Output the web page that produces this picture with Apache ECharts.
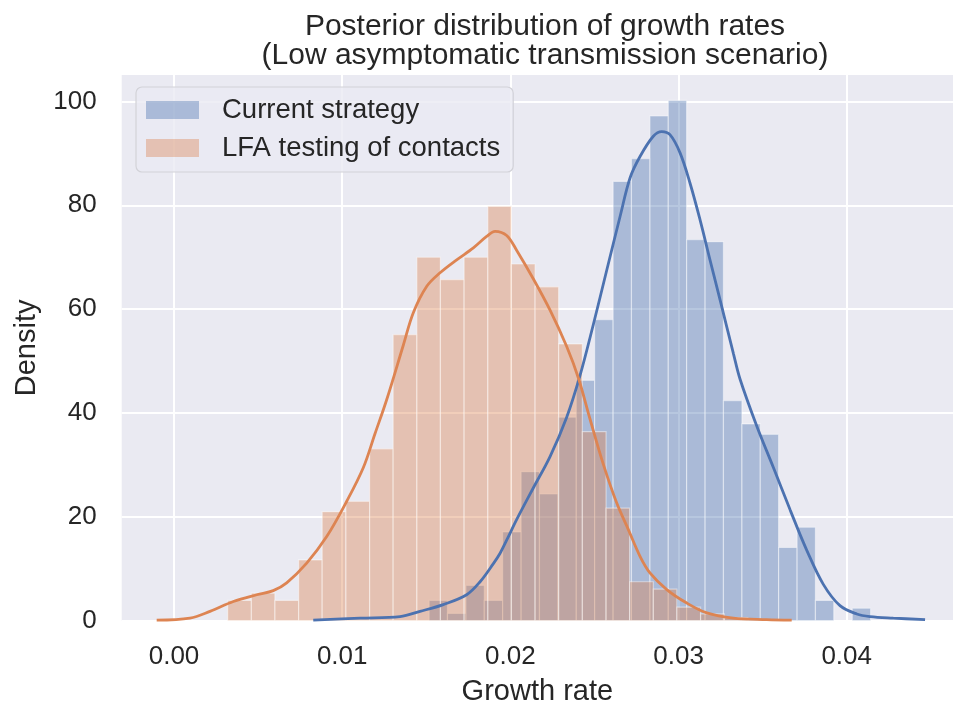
<!DOCTYPE html>
<html>
<head>
<meta charset="utf-8">
<script src="https://cdn.jsdelivr.net/npm/echarts@6/dist/echarts.min.js"></script>
<style>html,body{margin:0;padding:0;background:#fff}#c{width:953px;height:706px}</style>
</head>
<body>
<div id="c"></div>
<script>
// ---- data ----
const titleLines = ['Posterior distribution of growth rates', '(Low asymptomatic transmission scenario)'];
const seriesNames = ['Current strategy', 'LFA testing of contacts'];
const xTickLabels = ['0.00', '0.01', '0.02', '0.03', '0.04'];
const yTickLabels = ['0', '20', '40', '60', '80', '100'];

// histogram bin edges and densities: Current strategy
const blueEdges = [0.01517, 0.01626, 0.01736, 0.01845, 0.01954, 0.02064, 0.02173, 0.02283, 0.02392, 0.02501,
  0.02611, 0.02720, 0.02830, 0.02939, 0.03048, 0.03158, 0.03267, 0.03377, 0.03486, 0.03595,
  0.03705, 0.03814, 0.03923, 0.04033, 0.04142];
const blueHeights = [3.9, 1.4, 6.8, 3.9, 17.1, 28.7, 24.4, 39.2, 46.3, 58.0,
  84.6, 89.0, 97.2, 100.2, 73.4, 73.0, 42.4, 37.9, 35.9, 14.1,
  18.0, 3.9, 0, 2.4];

// histogram bin edges and densities: LFA testing of contacts
const orangeEdges = [0.00319, 0.00460, 0.00600, 0.00741, 0.00881, 0.01022, 0.01163, 0.01303, 0.01444, 0.01584,
  0.01725, 0.01866, 0.02006, 0.02147, 0.02287, 0.02428, 0.02569, 0.02709, 0.02850, 0.02990,
  0.03131, 0.03272, 0.03412];
const orangeHeights = [3.9, 5.3, 3.9, 11.7, 21.0, 23.0, 33.1, 55.1, 70.0, 65.7,
  70.0, 79.8, 68.7, 64.3, 53.3, 36.4, 21.7, 7.5, 6.1, 2.6,
  1.3, 0.6];

// KDE curves (x, density)
const blueKdeX = [0.00828, 0.01106, 0.01344, 0.01463, 0.01601, 0.01740, 0.01820, 0.01899, 0.01939, 0.01978,
  0.02038, 0.02137, 0.02236, 0.02335, 0.02414, 0.02493, 0.02573, 0.02652, 0.02712, 0.02771,
  0.02850, 0.02900, 0.02949, 0.03009, 0.03068, 0.03128, 0.03187, 0.03247, 0.03326, 0.03366,
  0.03465, 0.03564, 0.03664, 0.03762, 0.03861, 0.03960, 0.04060, 0.04139, 0.04277, 0.04466];
const blueKdeY = [0.1, 0.5, 0.8, 1.8, 3.1, 5.0, 7.5, 11.0, 13.0, 15.5,
  19.5, 25.6, 31.6, 39.2, 47.2, 57.0, 67.5, 77.8, 85.3, 89.4,
  93.3, 94.2, 93.6, 90.1, 84.3, 77.2, 69.5, 61.8, 51.5, 46.5,
  37.5, 29.5, 21.3, 13.6, 7.0, 2.9, 1.3, 0.8, 0.5, 0.2];
const orangeKdeX = [-0.00103, 0.00095, 0.00214, 0.00353, 0.00492, 0.00590, 0.00670, 0.00789, 0.00908, 0.01027,
  0.01126, 0.01195, 0.01265, 0.01363, 0.01423, 0.01503, 0.01582, 0.01681, 0.01780, 0.01859,
  0.01909, 0.01978, 0.02038, 0.02137, 0.02236, 0.02335, 0.02404, 0.02474, 0.02553, 0.02632,
  0.02701, 0.02771, 0.02830, 0.02930, 0.03049, 0.03168, 0.03326, 0.03524, 0.03673];
const orangeKdeY = [0.1, 0.5, 1.8, 3.7, 5.0, 5.8, 7.3, 11.1, 16.2, 23.0,
  29.5, 36.0, 42.6, 53.0, 59.3, 64.4, 67.0, 69.5, 71.8, 74.0,
  75.0, 74.2, 71.3, 65.8, 59.8, 52.8, 46.8, 38.8, 30.1, 22.7,
  17.6, 12.4, 9.2, 6.0, 3.4, 1.5, 0.5, 0.2, 0.1];

// ---- build chart ----
const FONT = '"Liberation Sans", Arial, sans-serif';
const TXT = '#262626';
const blueLine = '#4C72B0', orangeLine = '#DD8452';
const blueFill = 'rgba(76,114,176,0.4)', orangeFill = 'rgba(221,132,82,0.4)';

function bins(edges, heights) {
  return heights.map((h, i) => [edges[i], edges[i + 1], h]);
}
function pts(xs, ys) { return xs.map((x, i) => [x, ys[i]]); }
function histRender(fill) {
  return function (params, api) {
    const x0 = api.value(0), x1 = api.value(1), h = api.value(2);
    const a = api.coord([x0, h]), b = api.coord([x1, 0]);
    return {
      type: 'rect',
      shape: { x: a[0], y: a[1], width: b[0] - a[0], height: b[1] - a[1] },
      style: { fill: fill, stroke: 'rgba(255,255,255,0.45)', lineWidth: 1.2 }
    };
  };
}
const xTickSet = xTickLabels.map(Number);
const yTickSet = yTickLabels.map(Number);

const chart = echarts.init(document.getElementById('c'), null, { renderer: 'canvas' });
chart.setOption({
  animation: false,
  backgroundColor: '#ffffff',
  textStyle: { fontFamily: FONT },
  title: {
    text: titleLines.join('\n'),
    left: 540, top: 7, textAlign: 'center',
    textStyle: { fontSize: 30, fontWeight: 'normal', color: TXT, lineHeight: 29, fontFamily: FONT }
  },
  grid: { left: 121.7, right: 0, top: 75, bottom: 706 - 620.7, outerBoundsMode: 'none', containLabel: false,
    show: true, backgroundColor: '#EAEAF2', borderWidth: 0 },
  legend: {
    orient: 'vertical', left: 136, top: 87,
    data: [seriesNames[0], seriesNames[1]],
    icon: 'rect', itemWidth: 53, itemHeight: 18, itemGap: 8,
    padding: [8, 13, 9, 10],
    backgroundColor: 'rgba(234,234,242,0.8)', borderColor: '#d2d2d8', borderWidth: 1.2, borderRadius: 6,
    itemStyle: { borderWidth: 0 },
    textStyle: { fontSize: 27.5, color: TXT, fontFamily: FONT, lineHeight: 30, padding: [0, 0, 0, 18] }
  },
  xAxis: {
    type: 'value', min: -0.00311, max: 0.04632,
    name: 'Growth rate', nameLocation: 'middle', nameGap: 57,
    nameTextStyle: { fontSize: 29, color: TXT, fontFamily: FONT },
    axisLine: { show: false }, axisTick: { show: false },
    splitLine: { show: true, showMinLine: false, showMaxLine: false, lineStyle: { color: '#ffffff', width: 2 } },
    axisLabel: {
      fontSize: 26, color: TXT, margin: 23, fontFamily: FONT, showMinLabel: false, showMaxLabel: false,
      formatter: v => { const i = xTickSet.findIndex(t => Math.abs(t - v) < 1e-7); return i >= 0 ? xTickLabels[i] : ''; }
    }
  },
  yAxis: {
    type: 'value', min: 0, max: 105.1, interval: 20,
    name: 'Density', nameLocation: 'middle', nameGap: 80,
    nameTextStyle: { fontSize: 29, color: TXT, fontFamily: FONT },
    axisLine: { show: false }, axisTick: { show: false },
    splitLine: { show: true, showMaxLine: false, lineStyle: { color: '#ffffff', width: 2 } },
    axisLabel: {
      fontSize: 26, color: TXT, margin: 25, fontFamily: FONT, showMaxLabel: false,
      formatter: v => { const i = yTickSet.findIndex(t => Math.abs(t - v) < 1e-7); return i >= 0 ? yTickLabels[i] : ''; }
    }
  },
  series: [
    { name: seriesNames[0], type: 'custom', renderItem: histRender(blueFill), itemStyle: { color: blueFill },
      encode: { x: [0, 1], y: 2 }, data: bins(blueEdges, blueHeights), z: 2 },
    { name: seriesNames[1], type: 'custom', renderItem: histRender(orangeFill), itemStyle: { color: orangeFill },
      encode: { x: [0, 1], y: 2 }, data: bins(orangeEdges, orangeHeights), z: 3 },
    { name: 'kde-current', type: 'line', data: pts(blueKdeX, blueKdeY), showSymbol: false, symbol: 'none',
      smooth: 0.35, lineStyle: { color: blueLine, width: 2.8 }, itemStyle: { color: blueLine }, z: 4 },
    { name: 'kde-lfa', type: 'line', data: pts(orangeKdeX, orangeKdeY), showSymbol: false, symbol: 'none',
      smooth: 0.35, lineStyle: { color: orangeLine, width: 2.8 }, itemStyle: { color: orangeLine }, z: 5 }
  ]
});
</script>
</body>
</html>
